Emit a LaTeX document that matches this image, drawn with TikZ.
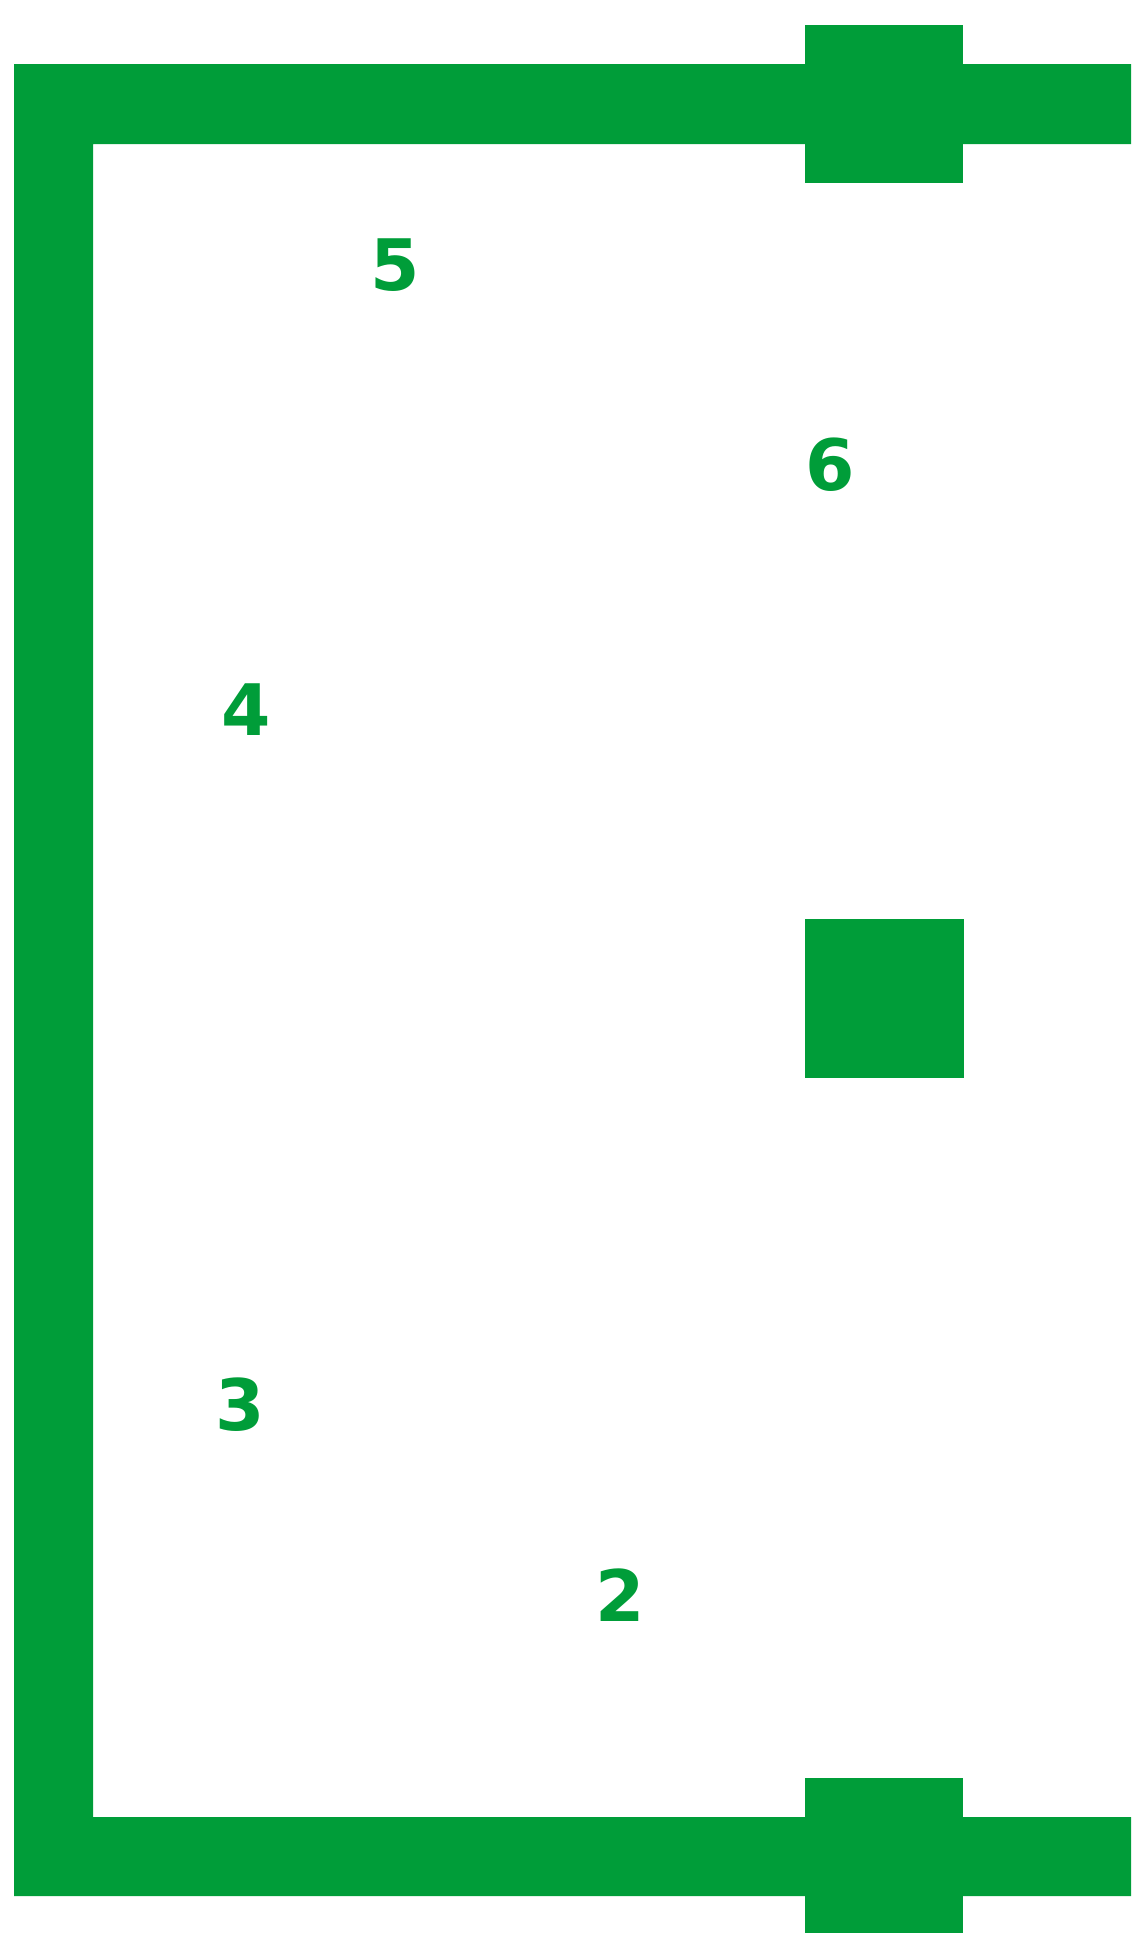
\documentclass[tikz,border=0pt]{standalone}
\usepackage{fontspec}
\setmainfont{DejaVu Sans}
\definecolor{padgreen}{RGB}{0,157,57}
\begin{document}
\begin{tikzpicture}[
  x=1pt, y=-1pt,
  pad/.style={fill=padgreen, draw=none},
  num/.style={text=padgreen, font=\fontsize{71}{71}\selectfont\bfseries, inner sep=0pt}
]
\useasboundingbox (0, 0) rectangle (1132, 1933);

%% Bracket outline
\fill[pad] (14, 64) -- (1131, 64) -- (1131, 144) -- (93, 144) -- (93, 1817)
  -- (1131, 1817) -- (1131, 1896) -- (14, 1896) -- cycle;

%% Square pads
\fill[pad] (805, 25) rectangle (963, 183);
\fill[pad] (805, 919) rectangle (964, 1078);
\fill[pad] (805, 1778) rectangle (963, 1933);

%% Pin numbers
\node[num] (n5) at (395, 265) {5};
\node[num] (n6) at (830, 465) {6};
\node[num] (n4) at (246, 710) {4};
\node[num] (n3) at (240, 1405) {3};
\node[num] (n2) at (620, 1595) {2};
\end{tikzpicture}
\end{document}
